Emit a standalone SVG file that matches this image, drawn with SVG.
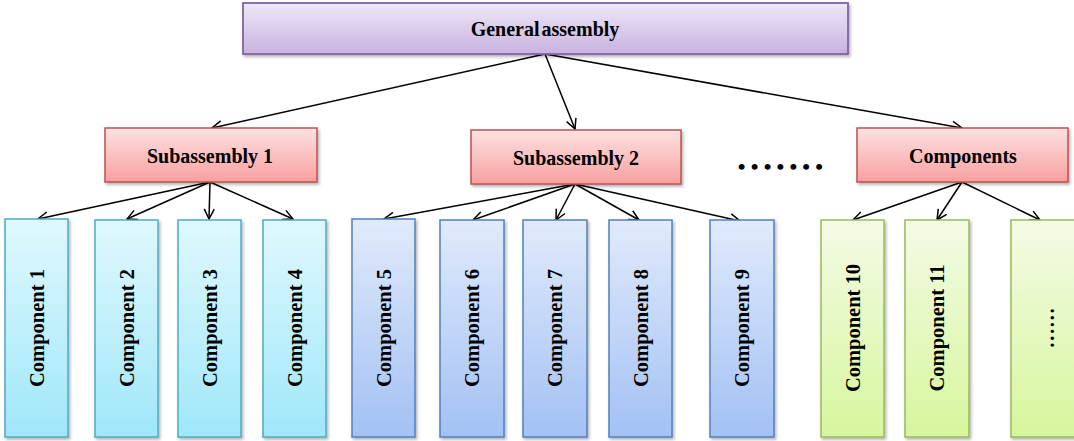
<svg xmlns="http://www.w3.org/2000/svg" width="1074" height="441" viewBox="0 0 1074 441">
<style>
.t{font-family:"Liberation Serif","Times New Roman",serif;font-weight:bold;font-size:20px;fill:#000;text-anchor:middle;dominant-baseline:central}
.v{font-size:20.5px}
.c{fill:none;stroke:#000;stroke-width:1.5;marker-end:url(#ah)}
.ga{fill:url(#gGA);stroke:#8064a2;stroke-width:1.8;filter:url(#sh)}
.sa{fill:url(#gSA);stroke:#c0504d;stroke-width:1.5;filter:url(#sh)}
.cy{fill:url(#gCY);stroke:#4bacc6;stroke-width:1.5;filter:url(#sh)}
.bl{fill:url(#gBL);stroke:#4f81bd;stroke-width:1.5;filter:url(#sh)}
.gr{fill:url(#gGR);stroke:#9bbb59;stroke-width:1.5;filter:url(#sh)}
</style>
<defs>
<linearGradient id="gGA" x1="0" y1="0" x2="0" y2="1"><stop offset="0" stop-color="#eee8f6"/><stop offset="1" stop-color="#c8b2e0"/></linearGradient>
<linearGradient id="gSA" x1="0" y1="0" x2="0" y2="1"><stop offset="0" stop-color="#fde2e2"/><stop offset="1" stop-color="#f8a0a0"/></linearGradient>
<linearGradient id="gCY" x1="0" y1="0" x2="0" y2="1"><stop offset="0" stop-color="#e0f8fe"/><stop offset="1" stop-color="#9fe7f9"/></linearGradient>
<linearGradient id="gBL" x1="0" y1="0" x2="0" y2="1"><stop offset="0" stop-color="#e0eafb"/><stop offset="1" stop-color="#a3c1f4"/></linearGradient>
<linearGradient id="gGR" x1="0" y1="0" x2="0" y2="1"><stop offset="0" stop-color="#f4fbe6"/><stop offset="1" stop-color="#d6f69c"/></linearGradient>
<filter id="sh" x="-10%" y="-10%" width="130%" height="130%"><feDropShadow dx="1.5" dy="2" stdDeviation="1.5" flood-color="#000" flood-opacity="0.3"/></filter>
<marker id="ah" viewBox="0 0 12 12" refX="11" refY="6" markerWidth="12" markerHeight="12" markerUnits="userSpaceOnUse" orient="auto"><path d="M1,1 L11,6 L1,11" fill="none" stroke="#000" stroke-width="1.5"/></marker>
</defs>

<g id="connectors">
<line class="c" x1="545" y1="54" x2="212" y2="128"/>
<line class="c" x1="545" y1="54" x2="575" y2="129"/>
<line class="c" x1="545" y1="54" x2="962" y2="128"/>
<line class="c" x1="210" y1="182" x2="38" y2="219"/>
<line class="c" x1="210" y1="182" x2="127" y2="219"/>
<line class="c" x1="210" y1="182" x2="209" y2="219"/>
<line class="c" x1="210" y1="182" x2="293" y2="219"/>
<line class="c" x1="575" y1="184" x2="384" y2="219"/>
<line class="c" x1="575" y1="184" x2="473" y2="220"/>
<line class="c" x1="575" y1="184" x2="556" y2="220"/>
<line class="c" x1="575" y1="184" x2="639" y2="220"/>
<line class="c" x1="575" y1="184" x2="740" y2="221"/>
<line class="c" x1="962" y1="182" x2="853" y2="220"/>
<line class="c" x1="962" y1="182" x2="937" y2="220"/>
<line class="c" x1="962" y1="182" x2="1040" y2="220"/>
</g>

<g id="general-assembly"><rect class="ga" x="243" y="3" width="605" height="51"/><text class="t" x="545" y="29" style="word-spacing:-3px">General assembly</text></g>
<g id="subassembly-1"><rect class="sa" x="105" y="128" width="212" height="54"/><text class="t" x="210" y="156">Subassembly 1</text></g>
<g id="subassembly-2"><rect class="sa" x="471" y="130" width="210" height="54"/><text class="t" x="576" y="158">Subassembly 2</text></g>
<g id="components"><rect class="sa" x="857" y="128" width="211" height="54"/><text class="t" x="963" y="156">Components</text></g>
<g id="ellipsis"><text class="t" x="783" y="166" style="font-size:22px;letter-spacing:5.2px">•••••••</text></g>

<g id="component-1"><rect class="cy" x="5" y="219" width="63" height="218"/><text class="t v" transform="translate(37,328) rotate(-90)">Component 1</text></g>
<g id="component-2"><rect class="cy" x="95" y="220" width="63" height="217"/><text class="t v" transform="translate(127,328) rotate(-90)">Component 2</text></g>
<g id="component-3"><rect class="cy" x="178" y="220" width="63" height="217"/><text class="t v" transform="translate(210,328) rotate(-90)">Component 3</text></g>
<g id="component-4"><rect class="cy" x="263" y="220" width="63" height="217"/><text class="t v" transform="translate(295,328) rotate(-90)">Component 4</text></g>
<g id="component-5"><rect class="bl" x="352" y="219" width="63" height="218"/><text class="t v" transform="translate(384,328) rotate(-90)">Component 5</text></g>
<g id="component-6"><rect class="bl" x="440" y="220" width="64" height="217"/><text class="t v" transform="translate(472,328) rotate(-90)">Component 6</text></g>
<g id="component-7"><rect class="bl" x="523" y="220" width="64" height="217"/><text class="t v" transform="translate(555,328) rotate(-90)">Component 7</text></g>
<g id="component-8"><rect class="bl" x="609" y="220" width="63" height="217"/><text class="t v" transform="translate(641,328) rotate(-90)">Component 8</text></g>
<g id="component-9"><rect class="bl" x="710" y="220" width="64" height="217"/><text class="t v" transform="translate(742,328) rotate(-90)">Component 9</text></g>
<g id="component-10"><rect class="gr" x="821" y="220" width="63" height="217"/><text class="t v" transform="translate(853,328) rotate(-90)">Component 10</text></g>
<g id="component-11"><rect class="gr" x="905" y="220" width="64" height="217"/><text class="t v" transform="translate(937,328) rotate(-90)">Component 11</text></g>
<g id="component-more"><rect class="gr" x="1011" y="220" width="64" height="217"/><text class="t v" transform="translate(1047,328) rotate(-90)">……</text></g>
</svg>
